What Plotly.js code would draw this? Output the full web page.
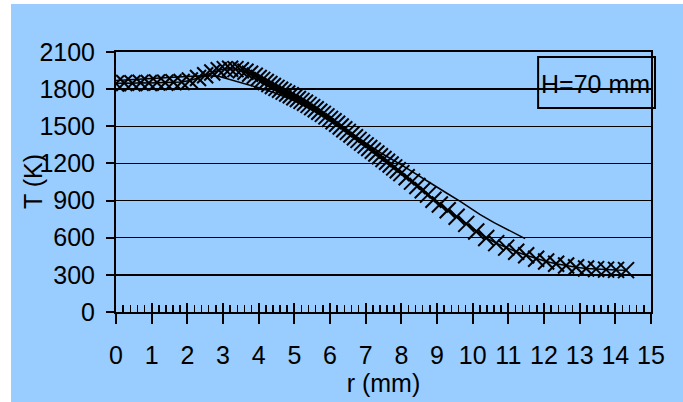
<!DOCTYPE html>
<html>
<head>
<meta charset="utf-8">
<script src="https://cdn.plot.ly/plotly-3.0.1.min.js"></script>
<style>
  html, body { margin: 0; padding: 0; background: #ffffff; width: 683px; height: 402px; overflow: hidden; }
  #chart { position: absolute; left: 11px; top: 4px; width: 672px; height: 398px; }
</style>
</head>
<body>
<div id="chart"></div>
<script>
// Series with X markers (radius r in mm, temperature T in K)
const rMarked = [0, 0.23, 0.46, 0.69, 0.92, 1.15, 1.38, 1.61, 1.84, 2.07, 2.3, 2.5, 2.7, 2.88, 3.05, 3.2, 3.35, 3.5, 3.63, 3.76, 3.89,
  4.0, 4.1, 4.2, 4.3, 4.4, 4.5, 4.6, 4.7, 4.8, 4.9, 5.0, 5.1, 5.2, 5.3, 5.4, 5.5, 5.6, 5.7, 5.8, 5.9,
  6.0, 6.1, 6.2, 6.3, 6.4, 6.5, 6.6, 6.7, 6.8, 6.9, 7.0, 7.1, 7.2, 7.3, 7.4, 7.5, 7.6, 7.7, 7.8, 7.9,
  8.0, 8.15, 8.3, 8.45, 8.6, 8.75, 8.9, 9.08, 9.3, 9.55, 9.82, 10.1, 10.38, 10.66, 10.94, 11.22, 11.5,
  11.78, 12.06, 12.34, 12.62, 12.9, 13.18, 13.46, 13.74, 14.02, 14.3];
const tMarked = [1845, 1850, 1847, 1852, 1850, 1854, 1852, 1856, 1858, 1870, 1890, 1912, 1935, 1952, 1962, 1965, 1962, 1952, 1940, 1925, 1908,
  1890, 1875, 1858, 1842, 1826, 1810, 1795, 1780, 1765, 1750, 1735, 1720, 1705, 1690, 1673, 1655, 1637, 1618, 1600, 1580,
  1560, 1540, 1520, 1498, 1476, 1455, 1433, 1412, 1390, 1368, 1346, 1324, 1302, 1280, 1258, 1236, 1214, 1192, 1168, 1145,
  1122, 1088, 1053, 1018, 983, 948, 906, 868, 822, 770, 712, 650, 598, 556, 520, 486, 458,
  430, 408, 390, 375, 362, 352, 346, 342, 340, 338];

// Thin line series
const rLine = [0, 0.5, 1.0, 1.5, 2.0, 2.5, 2.9, 3.3, 3.7, 4.2, 4.5, 5.0, 5.5, 6.0, 6.5, 7.0, 7.5, 8.0, 8.5, 9.0, 9.3, 9.64, 10.0, 10.2, 10.6, 10.95, 11.2, 11.47];
const tLine = [1870, 1878, 1885, 1892, 1905, 1910, 1902, 1870, 1832, 1795, 1765, 1705, 1630, 1550, 1460, 1365, 1272, 1188, 1098, 1003, 955, 895, 828, 788, 722, 668, 632, 593];

const xTicks = [0, 1, 2, 3, 4, 5, 6, 7, 8, 9, 10, 11, 12, 13, 14, 15];
const yTicks = [0, 300, 600, 900, 1200, 1500, 1800, 2100];
const boxText = 'H=70 mm';
const xTitle = 'r (mm)';
const yTitle = 'T (K)';

const FONT = '"Liberation Sans", Arial, Helvetica, sans-serif';

const traces = [
  {
    x: rMarked, y: tMarked, type: 'scatter', mode: 'lines+markers',
    line: { color: '#000000', width: 1.5 },
    marker: { symbol: 'x-thin-open', size: 16, line: { color: '#000000', width: 2 } },
    xaxis: 'x', yaxis: 'y', hoverinfo: 'skip'
  },
  {
    x: rLine, y: tLine, type: 'scatter', mode: 'lines',
    line: { color: '#000000', width: 1.5 },
    xaxis: 'x2', yaxis: 'y', hoverinfo: 'skip'
  }
];

const layout = {
  width: 672, height: 398,
  margin: { l: 105, r: 32, t: 48, b: 90 },
  paper_bgcolor: '#99ccff',
  plot_bgcolor: '#99ccff',
  showlegend: false,
  font: { family: FONT, size: 25, color: '#000000' },
  xaxis: {
    range: [0, 15], tickvals: xTicks, ticktext: xTicks.map(String),
    ticks: 'outside', ticklen: 10, tickwidth: 2, tickcolor: '#000000',
    showgrid: false, zeroline: false,
    showline: true, linecolor: '#000000', linewidth: 2, mirror: true,
    ticklabelstandoff: 10,
    tickfont: { family: FONT, size: 25 },
    title: { text: xTitle, font: { family: FONT, size: 25 }, standoff: 4 },
    fixedrange: true
  },
  xaxis2: {
    overlaying: 'x', anchor: 'y', side: 'bottom',
    range: [0, 15], tickvals: xTicks,
    ticks: 'inside', ticklen: 9, tickwidth: 2, tickcolor: '#000000',
    showticklabels: false, showgrid: false, zeroline: false, showline: false,
    minor: { ticks: 'inside', dtick: 0.2, tick0: 0, ticklen: 7, tickwidth: 1.5, tickcolor: '#000000', showgrid: false },
    fixedrange: true
  },
  yaxis: {
    range: [0, 2100], tickvals: yTicks, ticktext: yTicks.map(String),
    ticks: 'outside', ticklen: 8, tickwidth: 2, tickcolor: '#000000',
    showgrid: true, gridcolor: '#000000', gridwidth: 1.5,
    zeroline: false,
    showline: true, linecolor: '#000000', linewidth: 2, mirror: true,
    ticklabelstandoff: 6,
    tickfont: { family: FONT, size: 25 },
    fixedrange: true
  },
  shapes: [
    { type: 'rect', xref: 'paper', yref: 'paper', x0: 0.789, x1: 1.0075, y0: 0.785, y1: 0.981,
      line: { color: '#000000', width: 2 }, fillcolor: 'rgba(0,0,0,0)' }
  ],
  annotations: [
    { xref: 'paper', yref: 'paper', x: 0.897, y: 0.877, xanchor: 'center', yanchor: 'middle',
      text: boxText, showarrow: false, font: { family: FONT, size: 25, color: '#000000' } },
    { xref: 'paper', yref: 'paper', x: -0.155, y: 0.5, xanchor: 'center', yanchor: 'middle',
      text: yTitle, textangle: -90, showarrow: false, font: { family: FONT, size: 25, color: '#000000' } }
  ]
};

Plotly.newPlot('chart', traces, layout, { displayModeBar: false, staticPlot: true });
</script>
</body>
</html>
